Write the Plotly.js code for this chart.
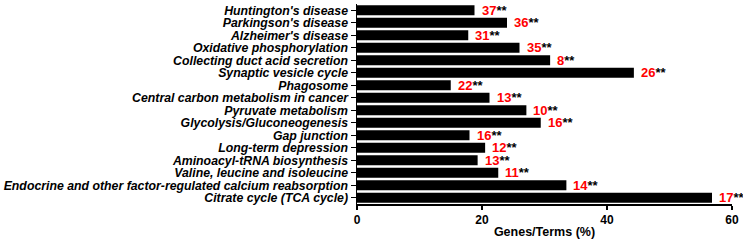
<!DOCTYPE html>
<html>
<head>
<meta charset="utf-8">
<script src="https://cdn.plot.ly/plotly-3.0.1.min.js"></script>
<style>html,body{margin:0;padding:0;background:#fff;}#chart{width:743px;height:242px;}</style>
</head>
<body>
<div id="chart"></div>
<script>
const categories = [
  "Huntington's disease",
  "Parkingson's disease",
  "Alzheimer's disease",
  "Oxidative phosphorylation",
  "Collecting duct acid secretion",
  "Synaptic vesicle cycle",
  "Phagosome",
  "Central carbon metabolism in cancer",
  "Pyruvate metabolism",
  "Glycolysis/Gluconeogenesis",
  "Gap junction",
  "Long-term depression",
  "Aminoacyl-tRNA biosynthesis",
  "Valine, leucine and isoleucine",
  "Endocrine and other factor-regulated calcium reabsorption",
  "Citrate cycle (TCA cycle)"
];
const percent = [18.8, 24.0, 17.8, 26.0, 30.9, 44.3, 15.0, 21.2, 27.1, 29.4, 18.0, 20.5, 19.3, 22.6, 33.5, 56.8];
const geneCounts = [37, 36, 31, 35, 8, 26, 22, 13, 10, 16, 16, 12, 13, 11, 14, 17];
const significance = ["**","**","**","**","**","**","**","**","**","**","**","**","**","**","**","**"];
const xTicks = [0, 20, 40, 60];

const fontFam = "Liberation Sans, Arial, sans-serif";

const trace = {
  type: 'bar',
  orientation: 'h',
  x: percent,
  y: categories,
  marker: {color: '#000', line: {width: 0}},
  hoverinfo: 'none'
};

const annotations = categories.map((c, i) => ({
  x: percent[i],
  y: c,
  xref: 'x',
  yref: 'y',
  xanchor: 'left',
  yanchor: 'middle',
  xshift: 5,
  yshift: 0,
  showarrow: false,
  text: '<span style="color:#ff0000">' + geneCounts[i] + '</span><span style="color:#000">' + significance[i] + '</span>',
  font: {family: fontFam, size: 13, weight: 'bold', color: '#ff0000'}
}));

const layout = {
  width: 743,
  height: 242,
  margin: {l: 357, r: 11, t: 4, b: 38, pad: 0, autoexpand: false},
  paper_bgcolor: '#fff',
  plot_bgcolor: '#fff',
  showlegend: false,
  bargap: 0.19,
  xaxis: {
    range: [0, 60],
    automargin: false,
    tickvals: xTicks,
    ticktext: xTicks.map(String),
    showgrid: false,
    zeroline: false,
    showline: true,
    linecolor: '#000',
    linewidth: 1.5,
    ticks: 'outside',
    ticklen: 4,
    tickwidth: 1.5,
    tickcolor: '#000',
    tickfont: {family: fontFam, size: 12, weight: 'bold', color: '#000'},
    title: {text: 'Genes/Terms (%)', font: {family: fontFam, size: 12.5, weight: 'bold', color: '#000'}, standoff: 1},
    fixedrange: true
  },
  yaxis: {
    range: [categories.length - 0.5, -0.5],
    automargin: false,
    type: 'category',
    tickmode: 'array',
    tickvals: categories,
    ticktext: categories,
    showgrid: false,
    zeroline: false,
    showline: true,
    linecolor: '#000',
    linewidth: 1.5,
    ticks: 'outside',
    ticklen: 5,
    tickwidth: 1.2,
    tickcolor: '#000',
    ticklabelstandoff: 0,
    tickfont: {family: fontFam, size: 12.3, weight: 'bold', style: 'italic', color: '#000'},
    fixedrange: true
  },
  annotations: annotations
};

Plotly.newPlot('chart', [trace], layout, {displayModeBar: false, staticPlot: true});
</script>
</body>
</html>
